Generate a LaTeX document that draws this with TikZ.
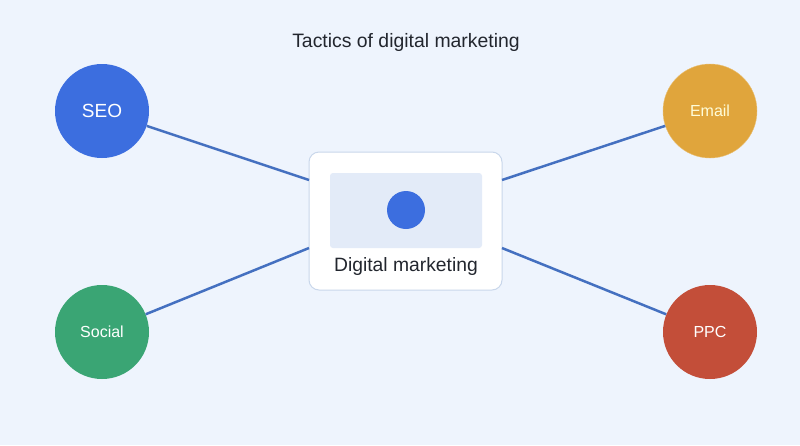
\documentclass[tikz,border=0pt]{standalone}
\usepackage{fontspec}
\setmainfont{Liberation Sans}
\definecolor{bgblue}{HTML}{EEF4FD}
\definecolor{linkblue}{HTML}{4470C0}
\definecolor{seoblue}{HTML}{3C6EDF}
\definecolor{mailgold}{HTML}{E0A53C}
\definecolor{socgreen}{HTML}{3AA574}
\definecolor{ppcred}{HTML}{C34E39}
\definecolor{boxedge}{HTML}{C9D7EB}
\definecolor{panel}{HTML}{E3EBF8}
\definecolor{inkgray}{HTML}{22262E}
\tikzset{
  tactic/.style={circle, minimum size=94pt, inner sep=0pt, text=white,
    font=\fontsize{16}{19}\selectfont, text depth=0pt},
  link/.style={linkblue, line width=2.5pt},
}

\begin{document}
\begin{tikzpicture}[x=1pt,y=-1pt]
                \fill[bgblue] (0,0) rectangle (800,445);
                \useasboundingbox (0,0) rectangle (800,445);

                \node[text=inkgray, font=\fontsize{19.4}{23}\selectfont] (title) at (406,42.5) {Tactics of digital marketing};

                \draw[boxedge, fill=white, line width=1pt, rounded corners=10pt] (309,152) rectangle (502,290);
                \fill[panel, rounded corners=3pt] (330,173) rectangle (482,248);
                \node[circle, fill=seoblue, minimum size=38pt, inner sep=0pt] (dot) at (406,210) {};
                \node[text=inkgray, font=\fontsize{19.3}{23}\selectfont] (hub) at (406,266.5) {Digital marketing};

                \coordinate (lt) at (309,180);
                \coordinate (lb) at (309,248);
                \coordinate (rt) at (502,180);
                \coordinate (rb) at (502,248);

                \node[tactic, fill=seoblue, font=\fontsize{19}{22}\selectfont] (seo) at (102,111) {SEO};
                \node[tactic, fill=mailgold, draw=mailgold!70!white, text=white!85!yellow] (email) at (710,111) {Email};
                \node[tactic, fill=socgreen] (social) at (102,332) {Social};
                \node[tactic, fill=ppcred] (ppc) at (710,332) {PPC};

                \draw[link] (seo) -- (lt);
                \draw[link] (social) -- (lb);
                \draw[link] (email) -- (rt);
                \draw[link] (ppc) -- (rb);
            \end{tikzpicture}
\end{document}
